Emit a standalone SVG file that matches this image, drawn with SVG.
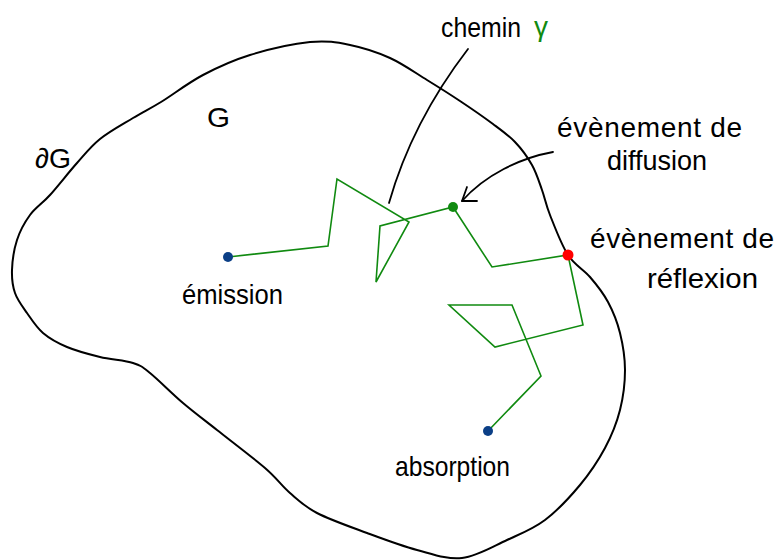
<svg xmlns="http://www.w3.org/2000/svg" width="776" height="560" viewBox="0 0 776 560">
<style>
.bd{fill:none;stroke:#000;stroke-width:2;stroke-linejoin:round;stroke-linecap:round}
.pt{fill:none;stroke:#000;stroke-width:1.8;stroke-linecap:round;stroke-linejoin:round}
.gr{fill:none;stroke:#108a10;stroke-width:1.6;stroke-linejoin:miter}
.t{font-family:"Liberation Sans","DejaVu Sans",sans-serif;font-size:28px;fill:#000}
</style>
<rect width="776" height="560" fill="#fff"/>
<g id="domain">
<path class="bd" d="M161,102 C172.7,94.8 188.2,82.8 203,75 C217.8,67.2 232.2,60.5 250,55 C267.8,49.5 293.3,43.7 310,42 C326.7,40.3 336.7,42.3 350,45 C363.3,47.7 377.2,52.2 390,58 C402.8,63.8 415.3,72.8 427,80 C438.7,87.2 449,93.7 460,101 C471,108.3 483.8,117.2 493,124 C502.2,130.8 508.5,135.2 515,142 C521.5,148.8 527.5,157 532,165 C536.5,173 539,181.7 542,190 C545,198.3 545.7,204.2 550,215 C554.3,225.8 561.3,244.7 568,255 C574.7,265.3 583.3,269.2 590,277 C596.7,284.8 603,292.7 608,302 C613,311.3 617.2,321.7 620,333 C622.8,344.3 625,357.2 625,370 C625,382.8 623.3,397 620,410 C616.7,423 611.7,435.5 605,448 C598.3,460.5 590,473 580,485 C570,497 557.2,510.8 545,520 C532.8,529.2 520.8,533.7 507,540 C493.2,546.3 477,556.3 462,558 C447,559.7 432.8,554.2 417,550 C401.2,545.8 383.7,539.2 367,533 C350.3,526.8 329.8,519.7 317,513 C304.2,506.3 298.7,500.5 290,493 C281.3,485.5 277.2,478.5 265,468 C252.8,457.5 230.7,440.8 217,430 C203.3,419.2 194.2,412.5 183,403 C171.8,393.5 158.3,379.7 150,373 C141.7,366.3 141.3,365.7 133,363 C124.7,360.3 111,359.7 100,357 C89,354.3 76.5,351 67,347 C57.5,343 49.7,338.7 43,333 C36.3,327.3 31.7,319.7 27,313 C22.3,306.3 17.5,300.2 15,293 C12.5,285.8 11.7,278.8 12,270 C12.3,261.2 14,249.2 17,240 C20,230.8 24.5,222.5 30,215 C35.5,207.5 42.2,203.7 50,195 C57.8,186.3 68.7,172.3 77,163 C85.3,153.7 90.7,146.5 100,139 C109.3,131.5 122.8,124.2 133,118 C143.2,111.8 149.3,109.2 161,102 Z"/>
<text class="t" x="207" y="127" font-size="38" textLength="23" lengthAdjust="spacingAndGlyphs">G</text>
<text class="t" x="35" y="168" font-size="36" textLength="36" lengthAdjust="spacingAndGlyphs">∂G</text>
</g>
<g id="connectors">
<polyline id="path-gamma" class="gr" points="228,257 328,246 337,179 409,222 376,282 380,226 453,207 492,267 568,255 583,325 495,347 449,305 512,305 541,376 488,431"/>
<path class="pt" d="M468,49 Q412,122 389,203"/>
<path class="pt" d="M553,152 C520,158 485,175 462,201"/>
<path class="pt" d="M467,187 L462,201 L477,201"/>
</g>
<g id="emission">
<circle cx="228" cy="257" r="5" fill="#0b3f86"/>
<text class="t" x="182" y="304" textLength="101" lengthAdjust="spacingAndGlyphs">émission</text>
</g>
<g id="absorption">
<circle cx="488" cy="431" r="5" fill="#0b3f86"/>
<text class="t" x="395" y="476" textLength="115" lengthAdjust="spacingAndGlyphs">absorption</text>
</g>
<g id="diffusion">
<circle cx="453" cy="207" r="5" fill="#108a10"/>
<text class="t" x="557" y="137" textLength="185" lengthAdjust="spacing">évènement de</text>
<text class="t" x="607" y="170" textLength="100" lengthAdjust="spacingAndGlyphs">diffusion</text>
</g>
<g id="reflexion">
<circle cx="568" cy="255" r="5.5" fill="#ff0000"/>
<text class="t" x="590" y="248" textLength="184" lengthAdjust="spacing">évènement de</text>
<text class="t" x="647" y="288" textLength="111" lengthAdjust="spacingAndGlyphs">réflexion</text>
</g>
<g id="chemin">
<text class="t" x="441" y="37" font-size="30" textLength="80" lengthAdjust="spacingAndGlyphs">chemin</text>
<text class="t" x="534" y="36" font-size="38" style="fill:#108a10">γ</text>
</g>
</svg>
